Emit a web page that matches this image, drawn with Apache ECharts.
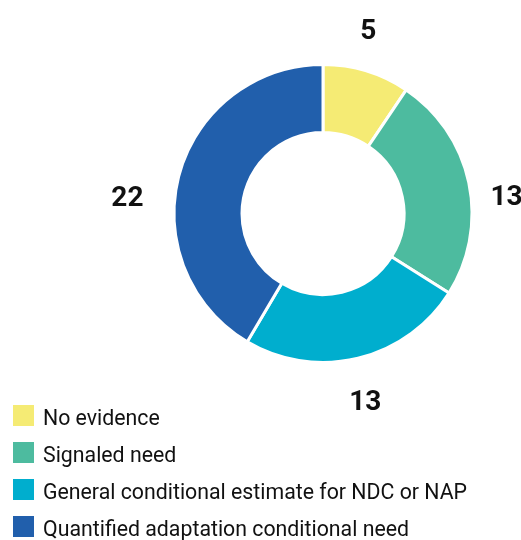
<!DOCTYPE html>
<html><head><meta charset="utf-8">
<script src="https://cdn.jsdelivr.net/npm/echarts@6/dist/echarts.min.js"></script>
<style>html,body{margin:0;padding:0;background:#fff}#c{width:521px;height:540px}</style>
</head><body><div id="c"></div>
<script>
const categories = ["No evidence", "Signaled need", "General conditional estimate for NDC or NAP", "Quantified adaptation conditional need"];
const values = [5, 13, 13, 22];
const colors = ["#F5EB74", "#4DBB9F", "#00AECE", "#215FAC"];
const labelShift = [[-17, -20], [-3, 19], [-18.5, 25], [-11.5, 30]];

const chart = echarts.init(document.getElementById('c'), null, {renderer: 'canvas'});
chart.setOption({
  animation: false,
  color: colors,
  legend: {
    orient: 'vertical', left: 11, top: 401, height: 200, padding: 0,
    itemWidth: 23, itemHeight: 23, itemGap: 8, icon: 'rect',
    formatter: '{t|{name}}',
    textStyle: {
      fontFamily: 'Roboto', fontSize: 21.3, color: '#111',
      rich: {t: {fontFamily: 'Roboto', fontSize: 21.3, color: '#111', lineHeight: 23, padding: [8, 0, 0, 3]}}
    },
    data: categories
  },
  series: [{
    type: 'pie',
    center: [323, 213.5],
    radius: [81, 149],
    startAngle: 90,
    clockwise: true,
    itemStyle: {borderColor: '#fff', borderWidth: 3},
    label: {show: true, position: 'outside', formatter: '{c}', fontFamily: 'Roboto', fontSize: 28, fontWeight: 'bold', color: '#111', overflow: 'none'},
    labelLine: {show: false, length: 20, length2: 0},
    labelLayout: function (p) { const s = labelShift[p.dataIndex]; return {dx: s[0], dy: s[1]}; },
    data: categories.map((n, i) => ({name: n, value: values[i]}))
  }]
});
</script></body></html>
